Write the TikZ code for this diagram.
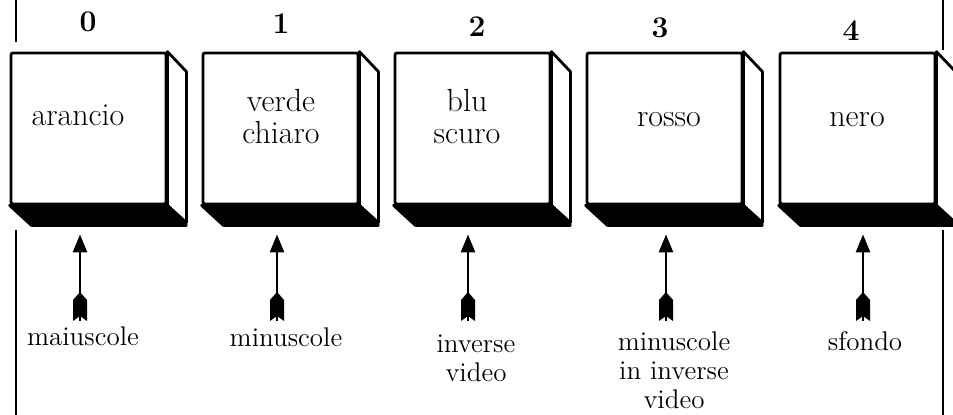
\documentclass[tikz,border=0pt]{standalone}
\usepackage{fontspec}
\usetikzlibrary{arrows.meta,calc}
\tikzset{
  face/.style={draw, line width=1.4pt, rounded corners=1pt, minimum width=77.5pt, minimum height=75.5pt, inner sep=0pt},
  side/.style={draw, fill=white, line width=1.4pt, line join=round},
  under/.style={draw, fill=black, line width=1.4pt, line join=round},
  keytext/.style={font=\fontsize{16}{16}\selectfont, align=center, anchor=base},
  num/.style={font=\fontsize{15}{15}\selectfont\bfseries},
  lbl/.style={font=\fontsize{13.5}{14.5}\selectfont, align=center, anchor=base},
  shaft/.style={line width=1.3pt, -{Triangle[length=9pt,width=7pt]}},
  frame/.style={line width=1pt}
}
\newcommand\fletch[1]{\fill (#1) ++(0,-29) -- ++(7,8) -- ++(0,21) -- ++(-7,-5) -- ++(-7,5) -- ++(0,-21) -- cycle;}
\begin{document}
\begin{tikzpicture}[x=0.5pt,y=-0.5pt]
\useasboundingbox (0,0) rectangle (953,415);
% frame
\draw[frame] (16,0) -- (16,42);
\draw[frame] (16,230) -- (16,415);
\draw[frame] (943,0) -- (943,50);
\draw[frame] (943,230) -- (943,415);
% keys
\node[face] (b0) at (88.5,128.5) {};
\node[face] (b1) at (280.5,128.5) {};
\node[face] (b2) at (472.5,128.5) {};
\node[face] (b3) at (664.5,128.5) {};
\node[face] (b4) at (857.5,128.5) {};
\foreach \b in {b0,b1,b2,b3,b4} {
  \draw[side] (\b.north east) -- ++(19,20) -- ++(0,151) -- (\b.south east) -- cycle;
  \draw[under] (\b.south west) -- (\b.south east) -- ++(19,20) -- ++(-155,0) -- cycle;
}
\node[keytext] (t0) at (78,126) {arancio};
\node[keytext] (t1) at (281,144) {verde\\chiaro};
\node[keytext] (t2) at (467,144) {blu\\scuro};
\node[keytext] (t3) at (669,127) {rosso};
\node[keytext] (t4) at (857,127) {nero};
% numbers
\node[num] (n0) at (88,22) {0};
\node[num] (n1) at (281,24) {1};
\node[num] (n2) at (477,27) {2};
\node[num] (n3) at (660,28) {3};
\node[num] (n4) at (851,31) {4};
% labels
\node[lbl] (l0) at (83,346) {maiuscole};
\node[lbl] (l1) at (286,347) {minuscole};
\node[lbl] (l2) at (476,382) {inverse\\video};
\node[lbl] (l3) at (674,409) {minuscole\\in inverse\\video};
\node[lbl] (l4) at (865,351) {sfondo};
% arrows
\coordinate (a0) at (80,321);
\coordinate (a1) at (277,321);
\coordinate (a2) at (468,321);
\coordinate (a3) at (666,321);
\coordinate (a4) at (863,321);
\draw[shaft] (a0) -- ($(a0 |- b0.south)+(0,29)$);
\draw[shaft] (a1) -- ($(a1 |- b1.south)+(0,29)$);
\draw[shaft] (a2) -- ($(a2 |- b2.south)+(0,29)$);
\draw[shaft] (a3) -- ($(a3 |- b3.south)+(0,29)$);
\draw[shaft] (a4) -- ($(a4 |- b4.south)+(0,29)$);
\fletch{a0}
\fletch{a1}
\fletch{a2}
\fletch{a3}
\fletch{a4}
\end{tikzpicture}
\end{document}
